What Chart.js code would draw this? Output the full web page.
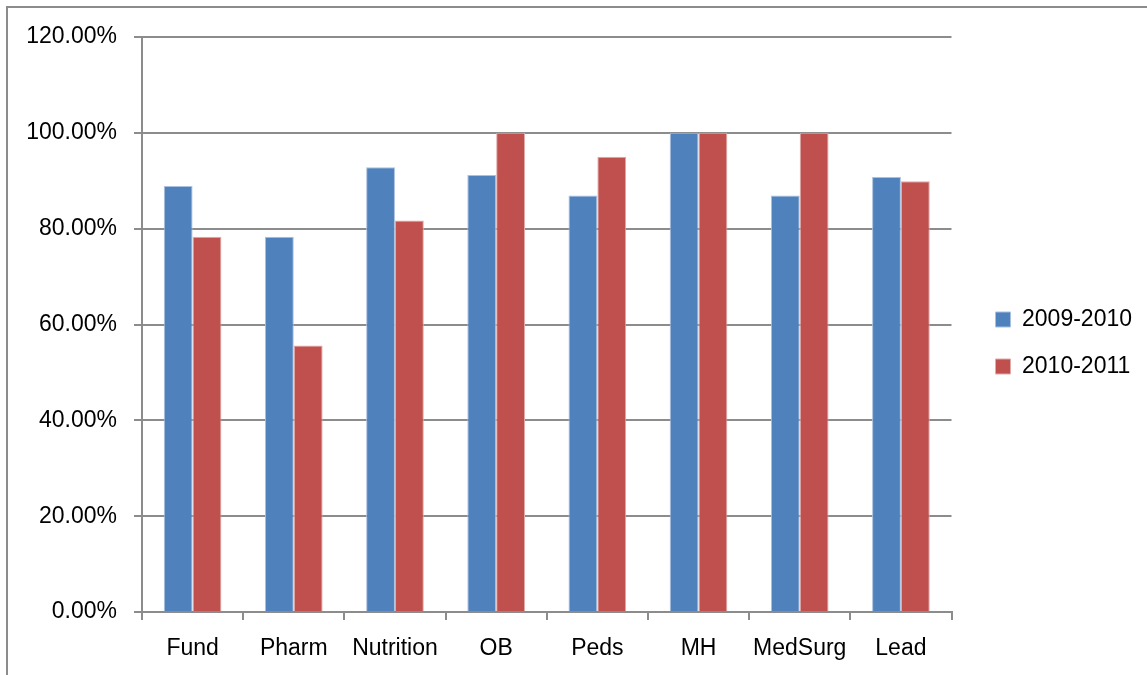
<!DOCTYPE html>
<html>
<head>
<meta charset="utf-8">
<script src="https://cdn.jsdelivr.net/npm/chart.js@4"></script>
<style>
  body { margin: 0; background: #fff; }
  #wrap { width: 1147px; height: 675px; }
</style>
</head>
<body>
<div id="wrap"><canvas id="chart" width="1147" height="675"></canvas></div>
<script>
const categories = ["Fund", "Pharm", "Nutrition", "OB", "Peds", "MH", "MedSurg", "Lead"];
const series2009 = [88.9, 78.3, 92.8, 91.2, 86.9, 100, 86.9, 90.8];
const series2010 = [78.3, 55.6, 81.7, 100, 95, 100, 100, 89.9];
const yTickLabels = ["0.00%", "20.00%", "40.00%", "60.00%", "80.00%", "100.00%", "120.00%"];

const gray = "#8c8c8c";
const font = { family: "'Liberation Sans', Arial, sans-serif", size: 23 };

// outer frame of the chart object, only the left and top edges are in view
const frame = {
  id: "frame",
  beforeDraw(chart) {
    const ctx = chart.ctx;
    ctx.save();
    ctx.fillStyle = "#fff";
    ctx.fillRect(0, 0, chart.width, chart.height);
    ctx.strokeStyle = gray;
    ctx.lineWidth = 2;
    ctx.beginPath();
    ctx.moveTo(7, chart.height);
    ctx.lineTo(7, 7);
    ctx.lineTo(chart.width, 7);
    ctx.stroke();
    ctx.restore();
  }
};

// push the legend a bit away from the plot, like the original
const legendNudge = {
  id: "legendNudge",
  afterLayout(chart) {
    const lg = chart.legend;
    lg.left += 20; lg.right += 20;
    lg.top -= 13; lg.bottom -= 13;
  }
};

new Chart(document.getElementById("chart"), {
  type: "bar",
  data: {
    labels: categories,
    datasets: [
      { label: "2009-2010", data: series2009, backgroundColor: "#4F81BD", borderColor: "#a9c0de", borderWidth: 1 },
      { label: "2010-2011", data: series2010, backgroundColor: "#C0504D", borderColor: "#e0aaa9", borderWidth: 1 }
    ]
  },
  options: {
    responsive: false,
    animation: false,
    devicePixelRatio: 1,
    categoryPercentage: 0.57,
    barPercentage: 1,
    layout: { padding: { left: 0, top: 37, right: 25, bottom: 0 } },
    plugins: {
      tooltip: { enabled: false },
      legend: {
        position: "right",
        labels: { boxWidth: 15, boxHeight: 15, padding: 24, color: "#000", font: font }
      }
    },
    scales: {
      x: {
        afterFit(s) { s.height = 63; },
        grid: { drawOnChartArea: false, drawTicks: true, tickLength: 8, color: gray, lineWidth: 2 },
        border: { display: true, color: gray, width: 2 },
        ticks: { color: "#000", font: font, padding: 15, maxRotation: 0 }
      },
      y: {
        min: 0, max: 120,
        afterFit(s) { s.width = 142; },
        grid: { color: gray, lineWidth: 2, drawTicks: true, tickLength: 8 },
        border: { display: true, color: gray, width: 2 },
        ticks: {
          stepSize: 20, color: "#000", font: font, padding: 17,
          callback: (v, i) => yTickLabels[i]
        }
      }
    }
  },
  plugins: [frame, legendNudge]
});
</script>
</body>
</html>
